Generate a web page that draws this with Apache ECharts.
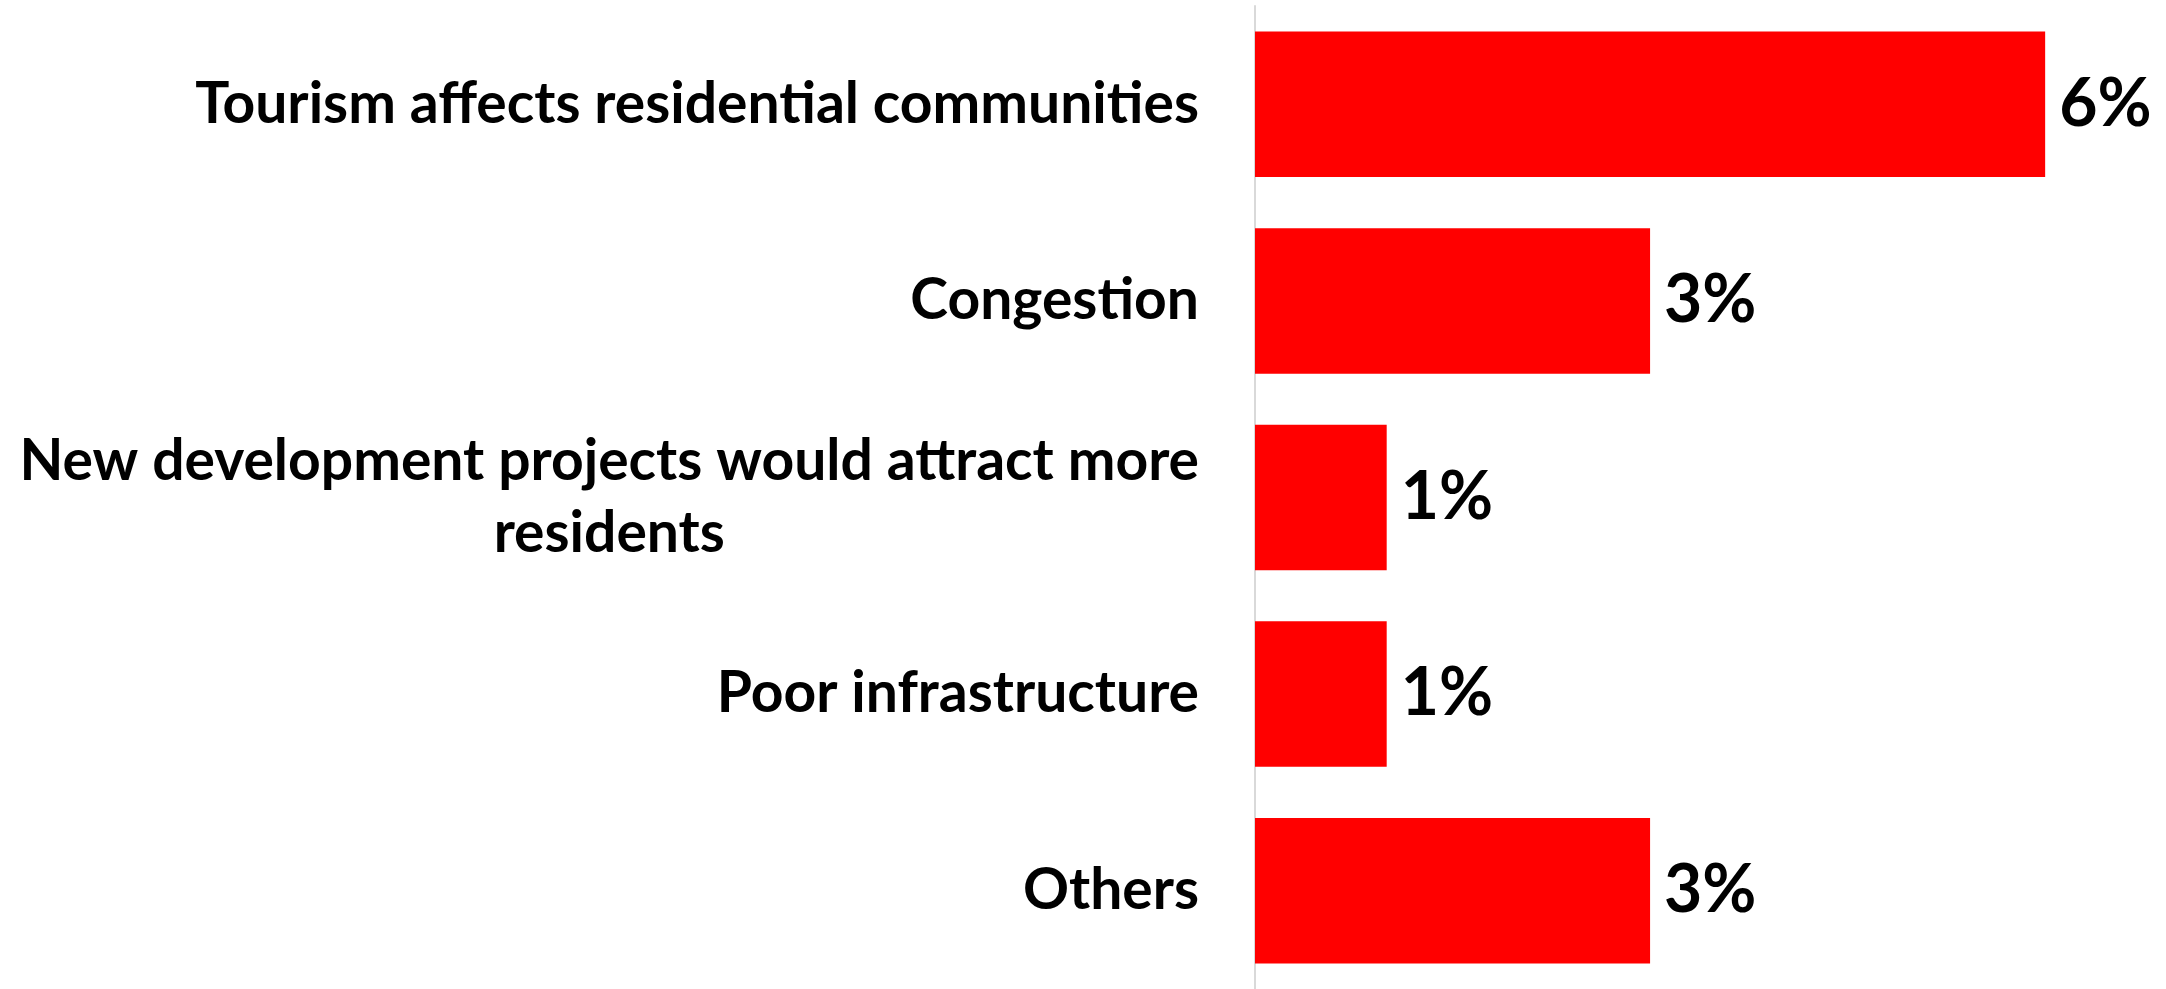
<!DOCTYPE html>
<html>
<head>
<meta charset="utf-8">
<script src="https://cdn.jsdelivr.net/npm/echarts@6/dist/echarts.min.js"></script>
<style>
  html, body { margin: 0; padding: 0; background: #ffffff; }
  #chart { width: 2166px; height: 989px; }
</style>
</head>
<body>
<div id="chart"></div>
<script>
// Reasons given, top to bottom
const categories = [
  'Tourism affects residential communities',
  'Congestion',
  'New development projects would attract more\nresidents',
  'Poor infrastructure',
  'Others'
];
// Share of respondents, in percent
const values = [6, 3, 1, 1, 3];

const chart = echarts.init(document.getElementById('chart'), null, { renderer: 'canvas' });

const FONT = 'Lato';

chart.setOption({
  backgroundColor: '#ffffff',
  animation: false,
  grid: {
    left: 1255,
    top: 6,
    width: 856,
    height: 988,
    containLabel: false
  },
  xAxis: {
    type: 'value',
    min: 0,
    max: 6.5,
    show: false,
    splitLine: { show: false }
  },
  yAxis: {
    type: 'category',
    data: categories,
    inverse: true,
    axisLine: { show: true, lineStyle: { color: '#d9d9d9', width: 2 } },
    axisTick: { show: false },
    splitLine: { show: false },
    axisLabel: {
      margin: 56,
      align: 'right',
      verticalAlign: 'middle',
      formatter: function (v) {
        return v.split('\n').map(function (line) { return '{c|' + line + '}'; }).join('\n');
      },
      rich: {
        c: {
          align: 'center',
          fontFamily: FONT,
          fontWeight: 'bold',
          fontSize: 57,
          lineHeight: 72,
          color: '#000000'
        }
      }
    }
  },
  series: [{
    type: 'bar',
    data: values,
    barCategoryGap: '26%',
    itemStyle: { color: '#ff0000' },
    label: {
      show: true,
      position: 'right',
      distance: 14,
      formatter: '{c}%',
      fontFamily: FONT,
      fontWeight: 'bold',
      fontSize: 66,
      color: '#000000'
    }
  }]
});
</script>
</body>
</html>
